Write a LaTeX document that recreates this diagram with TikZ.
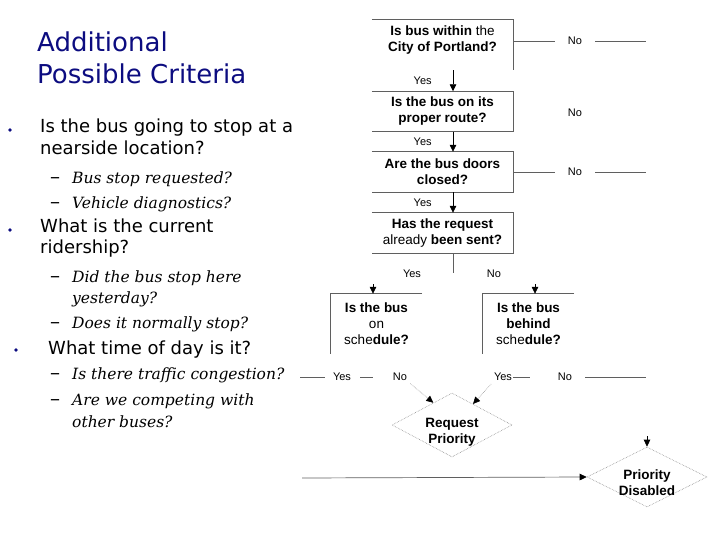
\documentclass[tikz,border=0pt]{standalone}
\usepackage{fontspec}
\setmainfont{DejaVu Sans}
\newfontfamily\chartfont{Liberation Sans}
\newfontfamily\subfont{DejaVu Serif}
\usetikzlibrary{arrows.meta,shapes.geometric}
\definecolor{titleblue}{RGB}{12,12,128}
\definecolor{boxgray}{RGB}{95,95,95}
\tikzset{
  qbox/.style={rectangle,inner sep=0pt,minimum width=141pt,minimum height=40pt,align=center,font=\chartfont\bfseries\fontsize{13.5}{16}\selectfont},
  smallq/.style={qbox,minimum width=91pt,minimum height=60pt},
  dtext/.style={align=center,inner sep=0pt,font=\chartfont\bfseries\fontsize{13.5}{16}\selectfont},
  lbl/.style={inner sep=0pt,font=\chartfont\fontsize{11}{13}\selectfont},
  nolbl/.style={lbl,inner xsep=13pt},
  edge/.style={boxgray,line width=.7pt},
  flow/.style={line width=.7pt,-{Triangle[width=6.5pt,length=7pt]}},
  grayflow/.style={boxgray,line width=.7pt,-{Triangle[width=6.5pt,length=7pt,color=black]}},
  dotflow/.style={black!40,densely dotted,line width=.6pt,-{Triangle[width=6.5pt,length=7pt,color=black]}},
  decide/.style={diamond,draw=black!45,densely dotted,line width=.6pt,inner sep=0pt,minimum width=120pt},
  headline/.style={anchor=base west,inner sep=0pt,text=titleblue,font=\fontsize{26}{32}\selectfont},
  mainpt/.style={anchor=base west,inner sep=0pt,font=\fontsize{18}{22}\selectfont},
  subpt/.style={anchor=base west,inner sep=0pt,font=\subfont\itshape\fontsize{15.5}{19}\selectfont},
}
\newcommand{\subdash}{\makebox[22pt][l]{\upshape\fontsize{20}{20}\selectfont –}}

\begin{document}
\begin{tikzpicture}[x=1pt,y=-1pt]
\path[use as bounding box] (0,0) rectangle (720,540);

\node[headline] (t1) at (37,52) {Additional};
\node[headline] (t2) at (37,84) {Possible Criteria};

\fill[titleblue] (10,130) circle[radius=1.8];
\fill[titleblue] (10,230) circle[radius=1.8];
\fill[titleblue] (16,350) circle[radius=1.8];
\node[mainpt] (b1a) at (40,133) {Is the bus going to stop at a};
\node[mainpt] (b1b) at (40,155) {nearside location?};
\node[subpt] (s1) at (50,184) {\subdash Bus stop requested?};
\node[subpt] (s2) at (50,209) {\subdash Vehicle diagnostics?};
\node[mainpt] (b2a) at (40,233) {What is the current};
\node[mainpt] (b2b) at (40,253) {ridership?};
\node[subpt] (s3) at (50,282) {\subdash Did the bus stop here};
\node[subpt] (s3b) at (72,303) {yesterday?};
\node[subpt] (s4) at (50,328) {\subdash Does it normally stop?};
\node[mainpt] (b3) at (48,354) {What time of day is it?};
\node[subpt] (s5) at (50,379) {\subdash Is there traffic congestion?};
\node[subpt] (s6) at (50,405) {\subdash Are we competing with};
\node[subpt] (s6b) at (72,427) {other buses?};

\node[qbox,minimum height=50pt,label={[name=q1t,dtext,yshift=5pt]center:{Is bus within {\mdseries the}\\City of Portland?}}] (q1) at (442.5,45) {};
\node[qbox] (q2) at (442.5,111.5) {Is the bus on its\\proper route?};
\node[qbox] (q3) at (442.5,172) {Are the bus doors\\closed?};
\node[qbox] (q4) at (442.5,233) {Has the request\\{\mdseries already} been sent?};
\node[smallq] (q5) at (376.5,324) {Is the bus\\{\mdseries on}\\{\mdseries sche}dule?};
\node[smallq] (q6) at (528.5,324) {Is the bus\\behind\\{\mdseries sche}dule?};

\draw[edge] (q1.north west) -- (q1.north east) -- (q1.south east);
\foreach \q in {q2,q3,q4}
  \draw[edge] (\q.north west) -- (\q.north east) -- (\q.south east) -- (\q.south west);
\foreach \q in {q5,q6}
  \draw[edge] (\q.north east) -- (\q.north west) -- (\q.south west);

\draw[flow] ([xshift=10.5pt]q1.south) -- node[lbl,left=21pt] (y1) {Yes} ([xshift=10.5pt]q2.north);
\draw[flow] ([xshift=10.5pt]q2.south) -- node[lbl,left=21pt] (y2) {Yes} ([xshift=10.5pt]q3.north);
\draw[flow] ([xshift=10.5pt]q3.south) -- node[lbl,left=21pt] (y3) {Yes} ([xshift=10.5pt]q4.north);

\node[nolbl] (n1) at (575,41) {No};
\node[nolbl] (n2) at (575,113) {No};
\node[nolbl] (n3) at (575,172) {No};
\coordinate (n1e) at (646,41);
\coordinate (n3e) at (646,172);
\draw[edge] (q1.east |- n1) -- (n1) (n1) -- (n1e);
\draw[edge] (q3.east) -- (n3) (n3) -- (n3e);

\coordinate (q4d) at ([xshift=10.5pt,yshift=-20pt]q4.south);
\draw[edge] ([xshift=10.5pt]q4.south) -- (q4d);
\node[lbl] (y4) at (412,274) {Yes};
\node[lbl] (n4) at (494,274) {No};

\coordinate (q5in) at (373,284);
\coordinate (q6in) at (535,284);
\draw[flow] (q5in) -- (q5in |- q5.north);
\draw[flow] (q6in) -- (q6in |- q6.north);

\node[lbl] (r1y) at (342,377) {Yes};
\node[lbl] (r1n) at (400,377) {No};
\node[lbl] (r2y) at (503,377) {Yes};
\node[lbl] (r2n) at (565,377) {No};
\foreach \a/\b in {300/325,360/373,513/530,585/646}
  \draw[edge] (\a,377) -- (\b,377);

\node[decide,minimum height=64pt] (rp) at (452,425) {};
\node[dtext] (rpt) at (452,432) {Request\\Priority};
\node[decide,minimum height=60pt] (pd) at (647,477) {};
\node[dtext] (pdt) at (647,483) {Priority\\Disabled};

\draw[dotflow,shorten <=4pt] (r1n.south east) -- (rp.130);
\draw[dotflow,shorten <=4pt] (r2y.south west) -- (rp.45);

\coordinate (pdin) at (302,478);
\coordinate (pdtop) at (647,436);
\draw[grayflow] (pdin) -- (pd.west);
\draw[flow] (pdtop) -- (pd.north);
\end{tikzpicture}
\end{document}
